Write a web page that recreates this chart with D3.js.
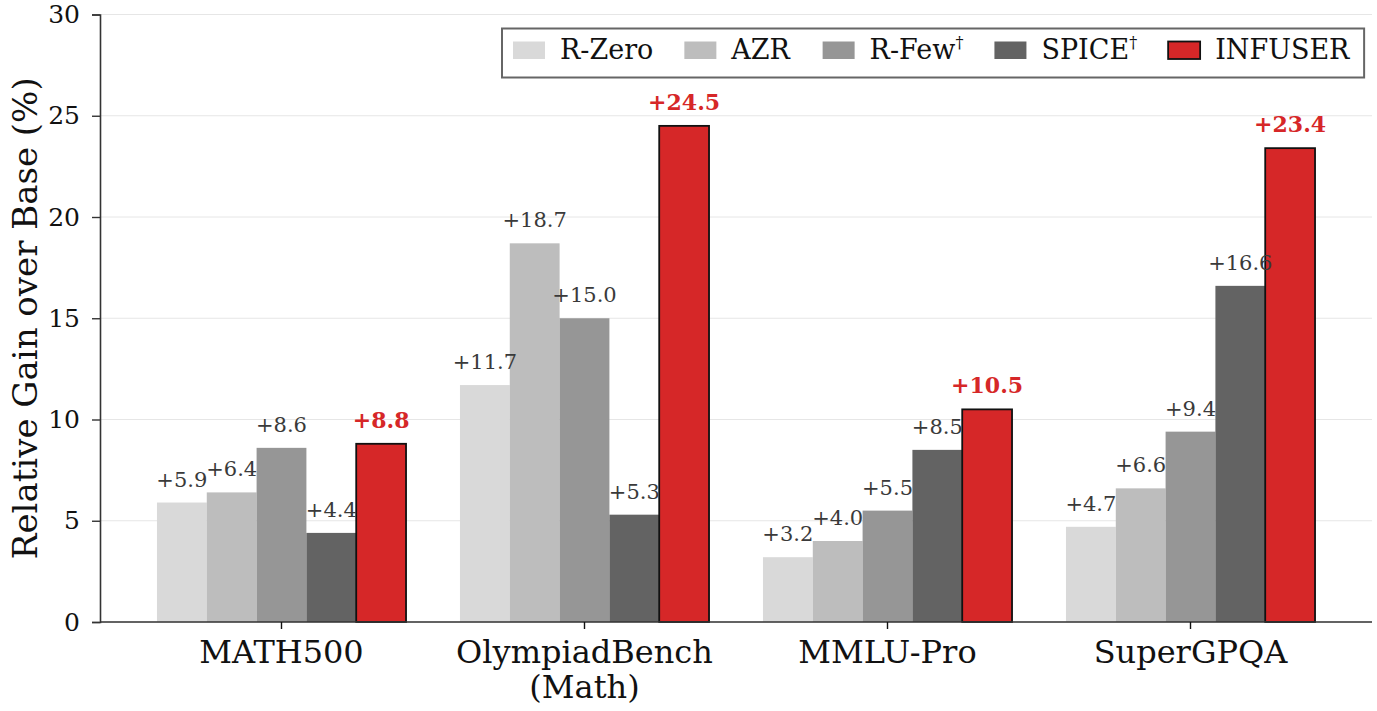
<!DOCTYPE html>
<html>
<head>
<meta charset="utf-8">
<script src="https://cdn.jsdelivr.net/npm/d3@7"></script>
<style>
  body { margin: 0; background: #fff; }
  svg, svg text { font-family: 'DejaVu Serif', serif; }
</style>
</head>
<body>
<div id="chart"></div>
<script>
// Data
var benchmarks = ['MATH500', 'OlympiadBench\n(Math)', 'MMLU-Pro', 'SuperGPQA']
var methods = ['R-Zero', 'AZR', 'R-Few', 'SPICE', 'INFUSER']
var daggered = ['R-Few', 'SPICE']
var rZero = [5.9, 11.7, 3.2, 4.7]
var azr = [6.4, 18.7, 4.0, 6.6]
var rFew = [8.6, 15.0, 5.5, 9.4]
var spice = [4.4, 5.3, 8.5, 16.6]
var infuser = [8.8, 24.5, 10.5, 23.4]
var yTicks = [0, 5, 10, 15, 20, 25, 30]

var seriesValues = [rZero, azr, rFew, spice, infuser]
var colors = ['#d9d9d9', '#bdbdbd', '#969696', '#636363', '#d62728']

var svgWidth = 1377, svgHeight = 711
var margin = { top: 14.5, right: 5, bottom: 89, left: 100 }
var width = svgWidth - margin.left - margin.right
var height = svgHeight - margin.top - margin.bottom

var svg = d3.select('#chart').append('svg')
  .attr('width', svgWidth)
  .attr('height', svgHeight)

var g = svg.append('g')
  .attr('transform', `translate(${margin.left}, ${margin.top})`)

// Scales
var x0 = d3.scaleBand()
  .domain(benchmarks)
  .range([0, width])
  .paddingInner(0.178)
  .paddingOuter(0.188)

var x1 = d3.scaleBand()
  .domain(methods)
  .range([0, x0.bandwidth()])

var y = d3.scaleLinear().domain([0, 30]).range([height, 0])

// Grid
g.append('g')
  .selectAll('line')
  .data(yTicks)
  .enter()
  .append('line')
  .attr('x1', 0)
  .attr('x2', width)
  .attr('y1', d => y(d))
  .attr('y2', d => y(d))
  .attr('stroke', '#e6e6e6')
  .attr('stroke-width', 1)

// Bars
var rows = []
benchmarks.forEach((b, bi) => {
  methods.forEach((m, mi) => {
    rows.push({ bench: b, method: m, mi: mi, value: seriesValues[mi][bi] })
  })
})

g.append('g')
  .selectAll('rect')
  .data(rows)
  .enter()
  .append('rect')
  .attr('x', d => x0(d.bench) + x1(d.method))
  .attr('y', d => y(d.value))
  .attr('width', x1.bandwidth())
  .attr('height', d => y(0) - y(d.value))
  .attr('fill', d => colors[d.mi])
  .attr('stroke', d => (d.method === 'INFUSER' ? '#111' : 'none'))
  .attr('stroke-width', 1.8)

// Value labels
g.append('g')
  .selectAll('text')
  .data(rows)
  .enter()
  .append('text')
  .attr('x', d => x0(d.bench) + x1(d.method) + x1.bandwidth() / 2)
  .attr('y', d => y(d.value) - 16)
  .attr('text-anchor', 'middle')
  .attr('font-family', 'DejaVu Serif')
  .style('font-size', d => (d.method === 'INFUSER' ? '22px' : '21px'))
  .style('font-weight', d => (d.method === 'INFUSER' ? 700 : 400))
  .attr('fill', d => (d.method === 'INFUSER' ? '#d62728' : '#3a3a3a'))
  .text(d => '+' + d.value.toFixed(1))

// Y axis
g.append('g')
  .call(d3.axisLeft(y).tickValues(yTicks).tickSize(8).tickPadding(12))
  .call(a => a.select('.domain').attr('stroke', '#333').attr('stroke-width', 1.6))
  .call(a => a.selectAll('.tick line').attr('stroke', '#333').attr('stroke-width', 1.4))
  .call(a => a.selectAll('.tick text')
    .style('font-family', 'DejaVu Serif')
    .style('font-size', '25px')
    .attr('fill', '#111'))

// X axis
var xAxis = g.append('g')
  .attr('transform', `translate(0, ${height})`)
  .call(d3.axisBottom(x0).tickSize(7).tickFormat(''))
  .call(a => a.select('.domain').attr('stroke', '#333').attr('stroke-width', 1.6).attr('d', `M0,0H${width}`))
  .call(a => a.selectAll('.tick line').attr('stroke', '#111').attr('stroke-width', 1.4))

xAxis.selectAll('.tick').each(function (d) {
  var t = d3.select(this).append('text')
    .attr('text-anchor', 'middle')
    .attr('fill', '#111')
    .style('font-family', 'DejaVu Serif')
    .style('font-size', '32px')
  d.split('\n').forEach((line, i) => {
    t.append('tspan').attr('x', 0).attr('y', 41 + i * 35).text(line)
  })
})

// Y label
svg.append('text')
  .attr('transform', `translate(37, ${margin.top + height / 2}) rotate(-90)`)
  .attr('text-anchor', 'middle')
  .attr('font-family', 'DejaVu Serif')
  .style('font-family', "'DejaVu Serif', serif")
  .style('font-size', '34px')
  .attr('fill', '#111')
  .text('Relative Gain over Base (%)')

// Legend
var legend = svg.append('g')
var legendBox = legend.append('rect')
  .attr('fill', '#fff')
  .attr('stroke', '#666')
  .attr('stroke-width', 2)

var lx = 513
methods.forEach((m, i) => {
  legend.append('rect')
    .attr('x', lx)
    .attr('y', 41.5)
    .attr('width', 32)
    .attr('height', 17.5)
    .attr('fill', colors[i])
    .attr('stroke', m === 'INFUSER' ? '#111' : 'none')
    .attr('stroke-width', 1.8)
  var t = legend.append('text')
    .attr('x', lx + 47)
    .attr('y', 59)
    .style('font-size', '27px')
    .attr('fill', '#111')
    .text(m)
  if (daggered.indexOf(m) > -1) {
    t.append('tspan').attr('dy', -11).style('font-size', '16px').text('\u2020')
  }
  lx += 47 + t.node().getBBox().width + 31
})

legendBox
  .attr('x', 502)
  .attr('y', 28.5)
  .attr('width', lx - 31 + 14 - 502)
  .attr('height', 49)
</script>
</body>
</html>
